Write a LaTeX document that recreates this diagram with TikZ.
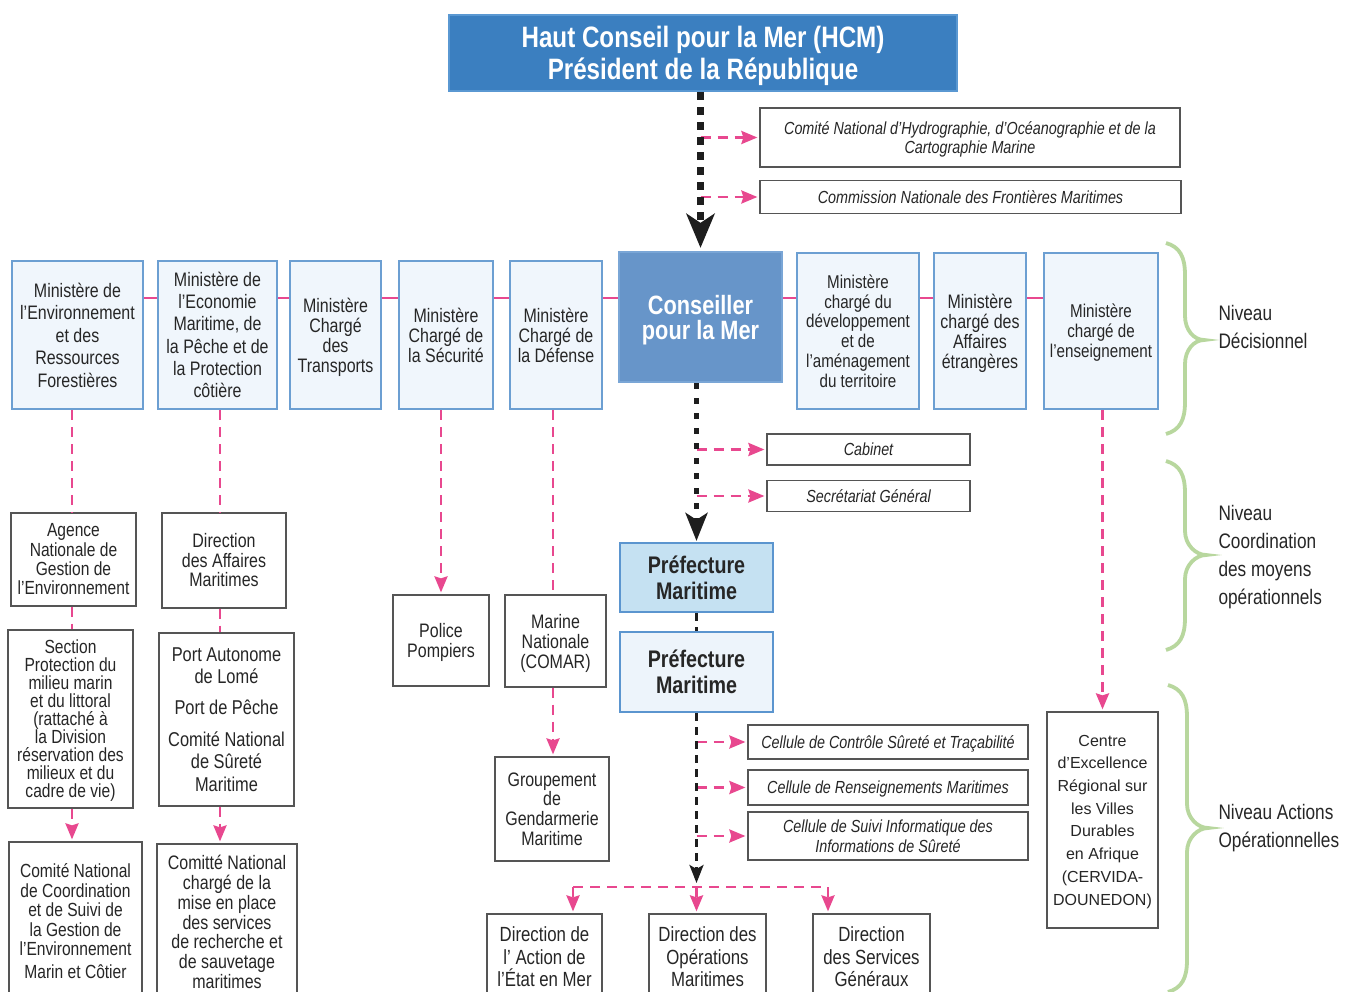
\documentclass[tikz,border=0pt]{standalone}
\usepackage{fontspec}
\setmainfont{Liberation Sans}[FakeStretch=0.82]
\newfontfamily\widefont{Liberation Sans}
\usetikzlibrary{arrows.meta}
\definecolor{hcmfill}{HTML}{3B7FC0}
\definecolor{hcmdraw}{HTML}{5A98D2}
\definecolor{consfill}{HTML}{6795C9}
\definecolor{consdraw}{HTML}{7AA6D6}
\definecolor{lightfill}{HTML}{F0F6FC}
\definecolor{bordblue}{HTML}{6C9FD2}
\definecolor{pmfill}{HTML}{C5E1F2}
\definecolor{pmdraw}{HTML}{5B95CF}
\definecolor{pmfillb}{HTML}{EDF4FB}
\definecolor{pinkc}{HTML}{E8488F}
\definecolor{greenc}{HTML}{B8D79E}
\definecolor{txt}{HTML}{262626}
\definecolor{plainbord}{HTML}{555555}
\definecolor{blk}{HTML}{1E1E1E}
\newcommand\fs[2]{\fontsize{#1}{#2}\selectfont}
\newcommand\nd[1]{\raisebox{0pt}[\height][0pt]{#1}}
\newcommand\greenbrace[5]{% top, tip, bottom, xleft, xtip
  \draw[brc] (#4,#1) .. controls ({#4+14},{#1+4}) and ({#4+19},{#1+14}) .. ({#4+19},{#1+32})
    -- ({#4+19},{#2-24}) .. controls ({#4+19},{#2-10}) and ({#5-10},{#2}) .. (#5,#2)
    .. controls ({#5-10},{#2}) and ({#4+19},{#2+10}) .. ({#4+19},{#2+24})
    -- ({#4+19},{#3-32}) .. controls ({#4+19},{#3-14}) and ({#4+14},{#3-4}) .. (#4,#3);}
\tikzset{
  lt/.style={draw=bordblue,line width=2.2pt,fill=lightfill,text=txt,align=center,inner sep=0pt,font=\fs{19.5}{20}},
  pl/.style={draw=plainbord,line width=1.2pt,fill=white,text=txt,align=center,inner sep=0pt,font=\fs{19.5}{20}},
  it/.style={pl,font=\itshape\fs{17.5}{19.5}},
  sz/.style 2 args={minimum width=#1pt,minimum height=#2pt},
  pk/.style={draw=pinkc,line width=2.8pt,dash pattern=on 10pt off 7pt},
  pka/.style={pk,shorten >=2pt,-{Stealth[length=16pt,width=13pt,inset=2pt]}},
  pkline/.style={draw=pinkc,line width=2.8pt},
  blka/.style={draw=blk,line width=7pt,dash pattern=on 8pt off 7pt,shorten >=3pt,-{Stealth[length=34pt,width=28pt,inset=9pt]}},
  blkb/.style={draw=blk,line width=5pt,dash pattern=on 6pt off 9pt,shorten >=1pt,-{Stealth[length=28pt,width=22pt,inset=7pt]}},
  blkc/.style={draw=blk,line width=3pt,dash pattern=on 8pt off 6pt},
  blkca/.style={blkc,-{Stealth[length=18pt,width=14pt,inset=4pt]}},
  brc/.style={draw=greenc,line width=3.8pt},
  lab/.style={anchor=west,align=left,text=txt,font=\fs{21}{28}}
}
\begin{document}
\begin{tikzpicture}[x=1pt,y=-1pt]
\useasboundingbox (0,0) rectangle (1345,992);
\clip (0,0) rectangle (1345,992);
\fill[white] (0,0) rectangle (1345,992);

% top
\node[draw=hcmdraw,fill=hcmfill,line width=2.5pt,sz={508}{76},text=white,align=center,font=\bfseries\fs{29.5}{32}] (hcm) at (703,53) {Haut Conseil pour la Mer (HCM)\\\nd{Président de la République}};
\node[it,sz={420}{59}] (cnh) at (970,137.5) {Comité National d’Hydrographie, d’Océanographie et de la\\\nd{Cartographie Marine}};
\node[it,sz={421}{33}] (cnf) at (970.5,197) {Commission Nationale des Frontières Maritimes};

% ministries row
\node[lt,sz={131}{148},font=\fs{19.5}{22.5}] (b1) at (77.5,335) {Ministère de\\l’Environnement\\et des\\Ressources\\Forestières};
\node[lt,sz={119}{148},font=\fs{19.5}{22.3}] (b2) at (217.5,335) {Ministère de\\l’Economie\\Maritime, de\\la Pêche et de\\la Protection\\côtière};
\node[lt,sz={91}{148}] (b3) at (335.5,335) {Ministère\\Chargé\\des\\\nd{Transports}};
\node[lt,sz={94}{148}] (b4) at (446,335) {Ministère\\Chargé de\\la Sécurité};
\node[lt,sz={92}{148}] (b5) at (556,335) {Ministère\\Chargé de\\la Défense};
\node[draw=consdraw,fill=consfill,line width=2.2pt,sz={163}{130},text=white,align=center,font=\bfseries\fs{26.5}{25}] (cons) at (700.5,317) {Conseiller\\\nd{pour la Mer}};
\node[lt,sz={122}{156},font=\fs{18.5}{19.8}] (b6) at (858,331) {Ministère\\chargé du\\développement\\et de\\l’aménagement\\du territoire};
\node[lt,sz={92}{156}] (b7) at (980,331) {Ministère\\chargé des\\Affaires\\\nd{étrangères}};
\node[lt,sz={114}{156},font=\fs{18.5}{20}] (b8) at (1101,331) {Ministère\\chargé de\\\nd{l’enseignement}};

% cabinet
\node[it,sz={203}{31}] (cab) at (868.5,449.5) {Cabinet};
\node[it,sz={203}{31}] (sg) at (868.5,496) {Secrétariat Général};

% left columns
\node[pl,sz={125}{93},font=\fs{19}{19.3}] (ag) at (73.5,559.5) {Agence\\Nationale de\\Gestion de\\l’Environnement};
\node[pl,sz={124}{95},font=\fs{19.5}{19.5}] (dam) at (224,560.5) {Direction\\des Affaires\\Maritimes};
\node[pl,sz={125}{178},font=\fs{19}{18}] (sec) at (70.5,719) {Section\\Protection du\\milieu marin\\et du littoral\\(rattaché à\\la Division\\réservation des\\milieux et du\\\nd{cadre de vie)}};
\node[pl,sz={135}{173},font=\fs{20}{22.5}] (port) at (226.5,719.5) {Port Autonome\\de Lomé\\[8.5pt]Port de Pêche\\[9pt]Comité National\\de Sûreté\\Maritime};
\node[pl,sz={133}{158},font=\fs{19}{19.5}] (cnc) at (75.5,921) {Comité National\\de Coordination\\et de Suivi de\\la Gestion de\\l’Environnement\\[3pt]Marin et Côtier};
\node[pl,sz={140}{156},font=\fs{19.5}{19.7}] (sar) at (227,922) {Comitté National\\chargé de la\\mise en place\\des services\\de recherche et\\de sauvetage\\maritimes};

% middle
\node[pl,sz={96}{91}] (pol) at (441,640.5) {Police\\\nd{Pompiers}};
\node[pl,sz={101}{92}] (mar) at (555.5,641) {Marine\\Nationale\\\nd{(COMAR)}};
\node[pl,sz={114}{104},font=\fs{19.5}{19.7}] (grp) at (552,809) {Groupement\\de\\Gendarmerie\\Maritime};

\node[draw=pmdraw,fill=pmfill,line width=2.2pt,sz={153}{69},text=txt,align=center,font=\bfseries\fs{24}{26}] (pm1) at (696.5,577.5) {Préfecture\\Maritime};
\node[draw=pmdraw,fill=pmfillb,line width=2.2pt,sz={153}{80},text=txt,align=center,font=\bfseries\fs{24}{26}] (pm2) at (696.5,672) {Préfecture\\Maritime};

\node[it,sz={280}{34}] (cc1) at (888,742) {Cellule de Contrôle Sûreté et \nd{Traçabilité}};
\node[it,sz={280}{35}] (cc2) at (888,787.5) {Cellule de \nd{Renseignements} Maritimes};
\node[it,sz={280}{48}] (cc3) at (888,836) {Cellule de Suivi Informatique des\\Informations de Sûreté};

\node[pl,sz={115}{86},font=\fs{20.5}{22.5}] (da) at (544.5,957) {Direction de\\l’ Action de\\l’État en Mer};
\node[pl,sz={117}{86},font=\fs{20.5}{22.5}] (do) at (707.5,957) {Direction des\\Opérations\\Maritimes};
\node[pl,sz={117}{86},font=\fs{20.5}{22.5}] (ds) at (871.5,957) {Direction\\des Services\\Généraux};

\node[pl,sz={111}{216},font=\widefont\fs{16}{22.7}] (ctr) at (1102.5,820) {Centre\\d’Excellence\\Régional sur\\les Villes\\Durables\\en Afrique\\(CERVIDA-\\\nd{DOUNEDON)}};

% labels
\node[lab] (l1) at (1215,327) {Niveau\\Décisionnel};
\node[lab] (l2) at (1215,557) {Niveau\\Coordination\\des moyens\\opérationnels};
\node[lab] (l3) at (1215,828.5) {Niveau Actions\\Opérationnelles};

% braces
\greenbrace{243}{340}{434}{1166}{1204}
\greenbrace{461}{555}{650}{1166}{1206}
\greenbrace{685}{828}{992}{1168}{1208}

% pink horizontal between ministries
\coordinate (hl) at (0,298);
\foreach \a/\b in {b1/b2,b2/b3,b3/b4,b4/b5,b5/cons,cons/b6,b6/b7,b7/b8}
  \draw[pkline] (\a.east |- hl) -- (\b.west |- hl);

% left column connectors
\coordinate (c1) at (72,0);
\coordinate (c2) at (220,0);
\coordinate (c5) at (553,0);
\draw[pk] (b1.south -| c1) -- (ag.north -| c1);
\draw[pk] (ag.south -| c1) -- (sec.north -| c1);
\draw[pka] (sec.south -| c1) -- (cnc.north -| c1);
\draw[pk] (b2.south -| c2) -- (dam.north -| c2);
\draw[pk] (dam.south -| c2) -- (port.north -| c2);
\draw[pka] (port.south -| c2) -- (sar.north -| c2);
\draw[pka] (b4.south -| pol.north) -- (pol.north);
\draw[pk] (b5.south -| c5) -- (mar.north -| c5);
\draw[pka] (mar.south -| c5) -- (grp.north -| c5);
\draw[pka] (b8.south -| ctr.north) -- (ctr.north);

% pink side arrows
\draw[pka] (cons.north |- cnh.west) -- (cnh.west);
\draw[pka] (cons.north |- cnf.west) -- (cnf.west);
\draw[pka] (pm1.north |- cab.west) -- (cab.west);
\draw[pka] (pm1.north |- sg.west) -- (sg.west);
\draw[pka] (pm2.south |- cc1.west) -- (cc1.west);
\draw[pka] (pm2.south |- cc2.west) -- (cc2.west);
\draw[pka] (pm2.south |- cc3.west) -- (cc3.west);

% bottom split
\coordinate (jn) at (696.5,887);
\coordinate (jl) at (573,887);
\coordinate (jr) at (828,887);
\draw[pk] (jl) -- (jr);
\draw[pka] (jl) -- (jl |- da.north);
\draw[pka] (jn) -- (jn |- do.north);
\draw[pka] (jr) -- (jr |- ds.north);

% black trunk
\draw[blka] (hcm.south -| cons.north) -- (cons.north);
\draw[blkb] (cons.south -| pm1.north) -- (pm1.north);
\draw[blkc] (pm1.south) -- (pm2.north);
\draw[blkca] (pm2.south) -- ([yshift=4pt]jn);
\end{tikzpicture}
\end{document}
